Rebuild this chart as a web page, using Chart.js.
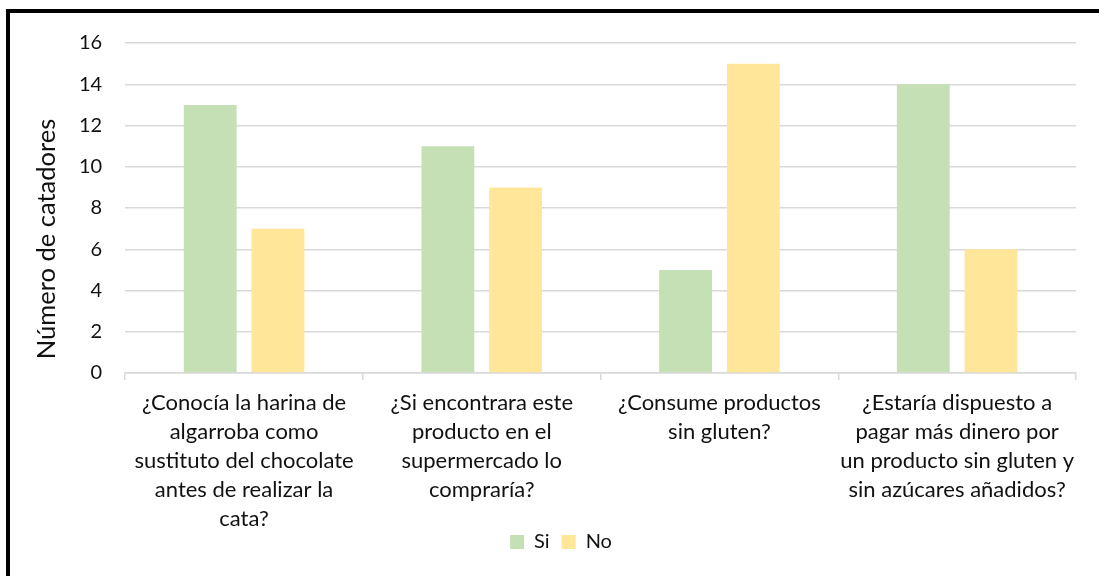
<!DOCTYPE html>
<html>
<head>
<meta charset="utf-8">
<script src="https://cdn.jsdelivr.net/npm/chart.js@4/dist/chart.umd.min.js"></script>
<style>
  html, body { margin: 0; padding: 0; background: #fff; overflow: hidden; }
  #wrap { position: relative; width: 1099px; height: 576px; }
  #frame { position: absolute; left: 6px; top: 9px; right: -10px; bottom: -10px;
           border-top: 4px solid #000; border-left: 4px solid #000; pointer-events: none; }
  canvas { position: absolute; left: 0; top: 0; }
</style>
</head>
<body>
<div id="wrap">
  <canvas id="c" width="1099" height="576"></canvas>
  <div id="frame"></div>
</div>
<script>
const categories = [
  ["¿Conocía la harina de", "algarroba como", "sustituto del chocolate", "antes de realizar la", "cata?"],
  ["¿Si encontrara este", "producto en el", "supermercado lo", "compraría?"],
  ["¿Consume productos", "sin gluten?"],
  ["¿Estaría dispuesto a", "pagar más dinero por", "un producto sin gluten y", "sin azúcares añadidos?"]
];
const siValues = [13, 11, 5, 14];
const noValues = [7, 9, 15, 6];
const yTicks = [0, 2, 4, 6, 8, 10, 12, 14, 16];
const yTitle = "Número de catadores";

const FONT = "Lato, 'Open Sans', sans-serif";
const TEXT = "#111";

// Vertical y-axis title, centred a little below the middle of the value axis
const yTitlePlugin = {
  id: "yTitle",
  afterDraw(chart) {
    const y = chart.scales.y;
    const ctx = chart.ctx;
    ctx.save();
    ctx.translate(y.left + 1, y.getPixelForValue(6.5));
    ctx.rotate(-Math.PI / 2);
    ctx.font = "25.5px " + FONT;
    ctx.fillStyle = TEXT;
    ctx.textAlign = "center";
    ctx.textBaseline = "middle";
    ctx.fillText(yTitle, 0, 0);
    ctx.restore();
  }
};

new Chart(document.getElementById("c"), {
  type: "bar",
  data: {
    labels: categories,
    datasets: [
      { label: "Si", data: siValues, backgroundColor: "#C5E0B4",
        barPercentage: 0.78, categoryPercentage: 0.57 },
      { label: "No", data: noValues, backgroundColor: "#FFE699",
        barPercentage: 0.78, categoryPercentage: 0.57 }
    ]
  },
  plugins: [yTitlePlugin],
  options: {
    responsive: false,
    animation: false,
    layout: { padding: { left: 46, right: 23, top: 43, bottom: 14 } },
    plugins: {
      tooltip: { enabled: false },
      legend: {
        position: "bottom",
        labels: {
          boxWidth: 14, boxHeight: 14, padding: 12, color: TEXT,
          font: { family: FONT, size: 20 }
        }
      }
    },
    scales: {
      x: {
        // tighten the category-label block so the legend sits close under it,
        // and let the last label line draw past the shortened axis box
        afterFit: axis => {
          axis.height -= 21;
          axis._computeLabelArea = () => undefined;
        },
        grid: { drawOnChartArea: false, offset: true, tickLength: 7, color: "#d9d9d9", lineWidth: 1.5 },
        border: { color: "#d9d9d9", width: 1.5 },
        ticks: { color: TEXT, maxRotation: 0, autoSkip: false, padding: 8,
                 font: { family: FONT, size: 22, lineHeight: 1.318 } }
      },
      y: {
        min: 0, max: 16,
        afterBuildTicks: axis => { axis.ticks = yTicks.map(v => ({ value: v })); },
        afterFit: axis => { axis.width += 10; },
        grid: { color: "#d9d9d9", lineWidth: 1.5, drawTicks: false },
        border: { display: false },
        ticks: { color: TEXT, padding: 23, font: { family: FONT, size: 20 } }
      }
    }
  }
});
</script>
</body>
</html>
